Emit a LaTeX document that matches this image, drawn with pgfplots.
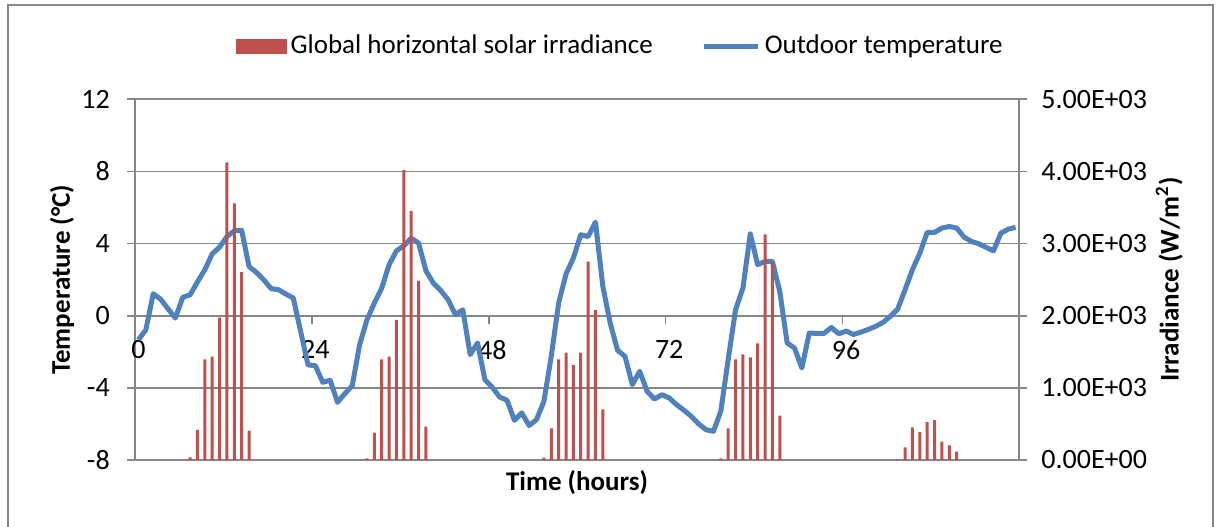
\documentclass[border=0pt]{standalone}
\usepackage{pgfplots}
\pgfplotsset{compat=1.18}
\usepackage{fontspec}
\setmainfont{Carlito}
\definecolor{barred}{HTML}{C0504D}
\definecolor{lineblue}{HTML}{4F81BD}
\definecolor{axgray}{HTML}{868686}
\pgfplotstableread{
h T
0 -1.33
1 -0.78
2 1.22
3 0.92
4 0.39
5 -0.13
6 1.02
7 1.16
8 1.87
9 2.55
10 3.43
11 3.80
12 4.39
13 4.71
14 4.73
15 2.73
16 2.40
17 1.99
18 1.50
19 1.44
20 1.20
21 0.98
22 -0.87
23 -2.73
24 -2.77
25 -3.69
26 -3.58
27 -4.80
28 -4.32
29 -3.88
30 -1.61
31 -0.22
32 0.70
33 1.53
34 2.83
35 3.60
36 3.88
37 4.30
38 4.03
39 2.49
40 1.81
41 1.40
42 0.89
43 0.06
44 0.33
45 -2.16
46 -1.51
47 -3.55
48 -3.97
49 -4.51
50 -4.69
51 -5.80
52 -5.39
53 -6.09
54 -5.76
55 -4.75
56 -2.25
57 0.70
58 2.31
59 3.20
60 4.49
61 4.39
62 5.19
63 1.62
64 -0.41
65 -1.92
66 -2.25
67 -3.82
68 -3.08
69 -4.19
70 -4.62
71 -4.38
72 -4.56
73 -4.93
74 -5.24
75 -5.58
76 -6.00
77 -6.32
78 -6.41
79 -5.30
80 -2.44
81 0.33
82 1.53
83 4.54
84 2.83
85 3.01
86 3.01
87 1.35
88 -1.51
89 -1.79
90 -2.90
91 -0.96
92 -0.98
93 -0.98
94 -0.65
95 -1.00
96 -0.85
97 -1.04
98 -0.91
99 -0.76
100 -0.59
101 -0.37
102 -0.04
103 0.37
104 1.44
105 2.55
106 3.47
107 4.62
108 4.62
109 4.86
110 4.95
111 4.86
112 4.36
113 4.12
114 3.99
115 3.79
116 3.60
117 4.58
118 4.80
119 4.90
}\temptable
\pgfplotstableread{
h I
7 37
8 416
9 1396
10 1432
11 1973
12 4127
13 3558
14 2606
15 406
31 23
32 379
33 1396
34 1432
35 1941
36 4020
37 3452
38 2486
39 462
55 32
56 439
57 1396
58 1487
59 1317
60 1487
61 2749
62 2079
63 703
79 23
80 439
81 1396
82 1465
83 1424
84 1617
85 3128
86 2750
87 614
103 10
104 176
105 453
106 388
107 527
108 554
109 254
110 203
111 115
}\irrtable
\begin{document}
\begin{tikzpicture}[font=\fontsize{13.5}{16}\selectfont]
\useasboundingbox (0,0) rectangle (609pt,263pt);
\draw[axgray, line width=0.9pt] (4pt,-5pt) -- (4pt,260.5pt) -- (606.5pt,260.5pt) -- (606.5pt,-5pt);
\begin{axis}[
  at={(67.4pt,33pt)}, anchor=south west,
  scale only axis, width=442.25pt, height=180.35pt,
  xmin=-0.5, xmax=119.5, ymin=-8, ymax=12,
  axis y line*=left, axis x line*=middle,
  hide obscured x ticks=false,
  axis line style={axgray, line width=0.9pt, -},
  ytick={-8,-4,0,4,8,12}, yticklabels={-8,-4,0,4,8,12},
  ymajorgrids, grid style={axgray, line width=0.9pt},
  tick align=outside, major tick length=4pt,
  ytick style={axgray, line width=0.9pt},
  xtick={-0.5,23.5,47.5,71.5,95.5,119.5}, xticklabels={},
  xtick style={axgray, line width=0.9pt},
  extra x ticks={0,24,48,72,96}, extra x tick labels={0,24,48,72,96},
  extra x tick style={major tick length=0pt},
  xticklabel style={yshift=-9pt, font=\fontsize{14}{16}\selectfont},
  yticklabel style={xshift=-5pt, font=\fontsize{14}{16}\selectfont},
  ylabel={\bfseries Temperature (°C)},
  ylabel style={at={(rel axis cs:0,0.5)}, anchor=center, yshift=36.4pt},
  xlabel={\bfseries Time (hours)},
  xlabel style={at={(rel axis cs:0.5,0)}, anchor=center, yshift=-11.5pt},
  legend style={at={(rel axis cs:0.547,1)}, anchor=center, yshift=26.65pt, xshift=1.25pt,
    draw=none, fill=none, legend columns=2,
    /tikz/every even column/.append style={column sep=22.5pt},
    nodes={inner xsep=2pt}},
  clip=false,
]
\addplot[lineblue, line width=2.5pt, line join=round, forget plot] table[x=h, y=T] {\temptable};
\addlegendimage{legend image code/.code={\fill[barred] (0pt,-3.5pt) rectangle (25pt,3.5pt);}}
\addlegendentry{Global horizontal solar irradiance}
\addlegendimage{legend image code/.code={\draw[lineblue, line width=2.5pt] (0pt,0pt) -- (27pt,0pt);}}
\addlegendentry{Outdoor temperature}
\end{axis}
\begin{axis}[
  at={(67.4pt,33pt)}, anchor=south west,
  scale only axis, width=442.25pt, height=180.35pt,
  xmin=-0.5, xmax=119.5, ymin=0, ymax=5000,
  axis y line*=right, axis x line=none,
  axis line style={axgray, line width=0.9pt, -},
  ytick={0,1000,2000,3000,4000,5000},
  yticklabels={0.00E+00,1.00E+03,2.00E+03,3.00E+03,4.00E+03,5.00E+03},
  tick align=outside, major tick length=4pt,
  ytick style={axgray, line width=0.9pt},
  yticklabel style={xshift=3.5pt, font=\fontsize{14}{16}\selectfont},
  ylabel={\bfseries Irradiance (W/m\textsuperscript{2})},
  ylabel style={at={(rel axis cs:1,0.5)}, anchor=center, yshift=-75pt},
]
\addplot[ybar, bar width=1.5pt, fill=barred, draw=none] table[x=h, y=I] {\irrtable};
\end{axis}
\end{tikzpicture}
\end{document}
